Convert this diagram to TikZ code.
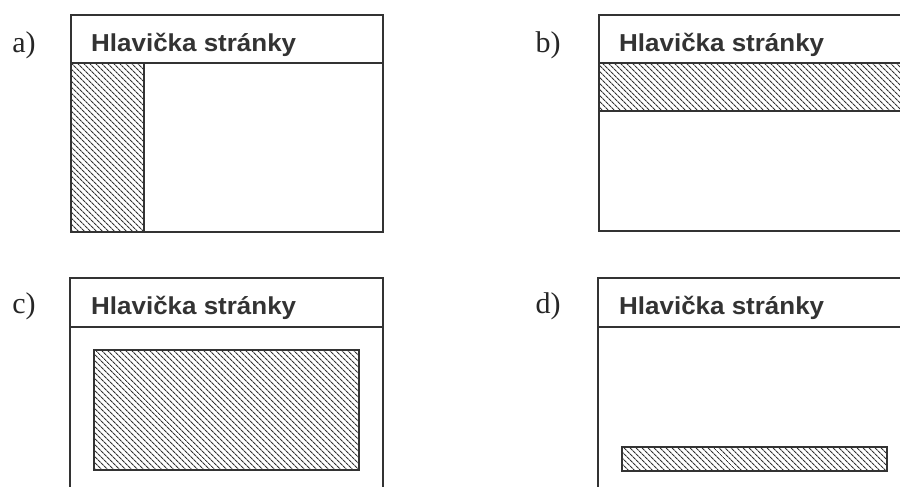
\documentclass[tikz,border=0pt]{standalone}
\usepackage{fontspec}
\setmainfont{Liberation Serif}
\setsansfont{Liberation Sans}
\usetikzlibrary{patterns.meta}
\definecolor{ink}{HTML}{333333}
\tikzset{
  frame/.style={draw=ink, line width=1.7pt},
  hatch/.style={draw=ink, line width=1.4pt,
    pattern={Lines[angle=-45, distance=4pt, line width=1.1pt]}, pattern color=ink},
  headtext/.style={anchor=base west, inner sep=0pt, text=ink,
    font=\sffamily\bfseries\fontsize{24.5}{24.5}\selectfont, xscale=1.06},
  panellabel/.style={inner sep=0pt, text=black!85, font=\fontsize{30}{30}\selectfont}
}
\begin{document}
\begin{tikzpicture}[x=1pt, y=-1pt]
\useasboundingbox (0,0) rectangle (900,487);
\clip (0,0) rectangle (900,487);
\fill[white] (0,0) rectangle (900,487);

% a) left navigation column
\draw[hatch] (71,63) rectangle (144,232);
\draw[frame] (71,15) rectangle (383,232);
\draw[frame] (71,63) -- (383,63);
\node[headtext] (ha) at (91,52) {Hlavička stránky};
\node[panellabel] (la) at (24,45) {a)};

% b) horizontal band under the header
\draw[hatch] (599,63) rectangle (910,111);
\draw[frame] (599,15) rectangle (910,231);
\draw[frame] (599,63) -- (910,63);
\node[headtext] (hb) at (619,52) {Hlavička stránky};
\node[panellabel] (lb) at (548,45) {b)};

% c) central content block
\draw[frame] (70,500) -- (70,278) -- (383,278) -- (383,500);
\draw[frame] (70,327) -- (383,327);
\draw[hatch] (94,350) rectangle (359,470);
\node[headtext] (hc) at (91,314) {Hlavička stránky};
\node[panellabel] (lc) at (24,306) {c)};

% d) thin bar near the bottom
\draw[frame] (598,500) -- (598,278) -- (910,278);
\draw[frame] (598,327) -- (910,327);
\draw[hatch] (622,447) rectangle (887,471);
\node[headtext] (hd) at (619,314) {Hlavička stránky};
\node[panellabel] (ld) at (548,306) {d)};
\end{tikzpicture}
\end{document}
